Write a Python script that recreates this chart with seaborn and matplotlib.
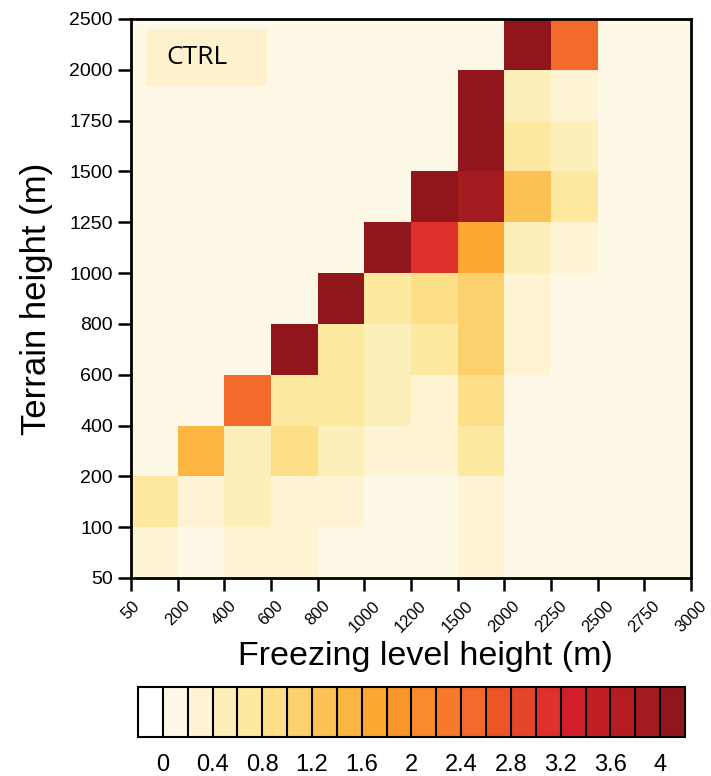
import numpy as np
import pandas as pd
import matplotlib
matplotlib.use("Agg")
import matplotlib.pyplot as plt
from matplotlib.colors import ListedColormap, BoundaryNorm
from matplotlib.patches import Rectangle
import seaborn as sns

# bin edges
freezing_edges = [50, 200, 400, 600, 800, 1000, 1200, 1500, 2000, 2250, 2500, 2750, 3000]
terrain_edges = [50, 100, 200, 400, 600, 800, 1000, 1250, 1500, 1750, 2000, 2500]

# values per terrain bin (bottom row first), one value per freezing-level bin
row_50_100 = [0.3, 0.1, 0.3, 0.3, 0.1, 0.1, 0.1, 0.3, 0.1, 0.1, 0.1, 0.1]
row_100_200 = [0.7, 0.3, 0.5, 0.3, 0.3, 0.1, 0.1, 0.3, 0.1, 0.1, 0.1, 0.1]
row_200_400 = [0.1, 1.5, 0.5, 0.9, 0.5, 0.3, 0.3, 0.7, 0.1, 0.1, 0.1, 0.1]
row_400_600 = [0.1, 0.1, 2.5, 0.7, 0.7, 0.5, 0.3, 0.9, 0.1, 0.1, 0.1, 0.1]
row_600_800 = [0.1, 0.1, 0.1, 4.5, 0.7, 0.5, 0.7, 1.1, 0.3, 0.1, 0.1, 0.1]
row_800_1000 = [0.1, 0.1, 0.1, 0.1, 4.5, 0.7, 0.9, 1.1, 0.3, 0.1, 0.1, 0.1]
row_1000_1250 = [0.1, 0.1, 0.1, 0.1, 0.1, 4.5, 3.1, 1.7, 0.5, 0.3, 0.1, 0.1]
row_1250_1500 = [0.1, 0.1, 0.1, 0.1, 0.1, 0.1, 4.5, 3.9, 1.3, 0.7, 0.1, 0.1]
row_1500_1750 = [0.1, 0.1, 0.1, 0.1, 0.1, 0.1, 0.1, 4.5, 0.7, 0.5, 0.1, 0.1]
row_1750_2000 = [0.1, 0.1, 0.1, 0.1, 0.1, 0.1, 0.1, 4.5, 0.5, 0.3, 0.1, 0.1]
row_2000_2500 = [0.1, 0.1, 0.1, 0.1, 0.1, 0.1, 0.1, 0.1, 4.5, 2.5, 0.1, 0.1]

# contour levels and colours (white below 0, dark red above 4)
levels = [-0.2] + [round(0.2 * i, 1) for i in range(21)] + [4.2]
colors = ["#FFFFFF", "#FEF9E6", "#FEF3D2", "#FDEFBA", "#FDE9A0", "#FCDF86",
          "#FCD06C", "#FCC256", "#FDB542", "#FCA833", "#F9962C", "#F98B2C",
          "#F7792B", "#F46A2A", "#EC5528", "#E5452A", "#DE302C", "#D11E2B",
          "#C21E25", "#B51C22", "#A31A1F", "#91161C"]
cbar_ticks = [0, 0.4, 0.8, 1.2, 1.6, 2, 2.4, 2.8, 3.2, 3.6, 4]

rows_top_down = [row_2000_2500, row_1750_2000, row_1500_1750, row_1250_1500,
                 row_1000_1250, row_800_1000, row_600_800, row_400_600,
                 row_200_400, row_100_200, row_50_100]
df = pd.DataFrame(rows_top_down)

cmap = ListedColormap(colors)
cmap.set_under(colors[0])
cmap.set_over(colors[-1])
norm = BoundaryNorm(levels, cmap.N)

sns.set_style("white")
plt.rcParams["font.family"] = ["Liberation Sans", "DejaVu Sans"]
plt.rcParams["text.color"] = "black"
plt.rcParams["xtick.color"] = "black"
plt.rcParams["ytick.color"] = "black"
plt.rcParams["axes.labelcolor"] = "black"

fig = plt.figure(figsize=(7.11, 7.76), dpi=100)
ax = fig.add_axes([0.1842, 0.2552, 0.7876, 0.7204])
cax = fig.add_axes([0.1941, 0.0503, 0.7693, 0.0644])

sns.heatmap(df, ax=ax, cmap=cmap, norm=norm, cbar=True, cbar_ax=cax,
            cbar_kws={"orientation": "horizontal", "drawedges": True,
                      "ticks": cbar_ticks},
            linewidths=0, xticklabels=False, yticklabels=False)

# axis ticks at the bin edges
ax.set_xticks(np.arange(len(freezing_edges)))
ax.set_xticklabels([str(v) for v in freezing_edges], rotation=45,
                   ha="center", va="top", fontsize=12)
ax.set_yticks(np.arange(len(terrain_edges)))
ax.set_yticklabels([str(v) for v in terrain_edges[::-1]], rotation=0, fontsize=14)
ax.tick_params(axis="both", direction="out", length=9.5, width=1.8,
               color="black", bottom=True, left=True)
ax.tick_params(axis="x", pad=5)
for s in ax.spines.values():
    s.set_visible(True)
    s.set_color("black")
    s.set_linewidth(2)

ax.set_xlabel("Freezing level height (m)", fontsize=24.5)
ax.xaxis.set_label_coords(0.525, -0.14)
ax.xaxis.label.set_va("center")
ax.set_ylabel("Terrain height (m)", fontsize=25, labelpad=12)

# label box
ax.add_patch(Rectangle((0.027, 0.88), 0.216, 0.102, transform=ax.transAxes,
                       facecolor="#FEF1CC", edgecolor="none", zorder=5))
ax.text(0.063, 0.931, "CTRL", transform=ax.transAxes, fontsize=19,
        family=["Open Sans", "DejaVu Sans"], va="center", ha="left",
        color="black", zorder=6)

# colorbar styling
cb = ax.collections[0].colorbar
cb.outline.set_edgecolor("black")
cb.outline.set_linewidth(1.5)
cb.dividers.set_color("black")
cb.dividers.set_linewidth(1.5)
cb.set_ticklabels([f"{t:g}" for t in cbar_ticks])
cax.minorticks_off()
cax.tick_params(which="both", length=0, labelsize=17, pad=12)

fig.savefig("out.png", dpi=100)
